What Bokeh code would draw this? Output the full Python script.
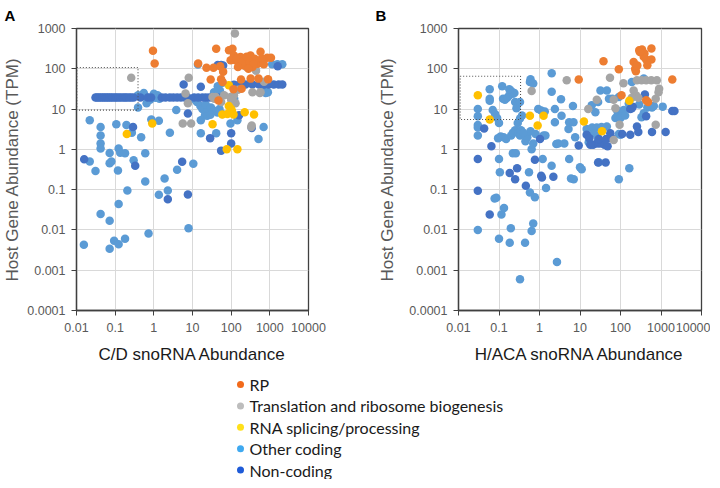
from bokeh.plotting import figure
from bokeh.layouts import column, row
from bokeh.models import (Range1d, FixedTicker, CustomJSTickFormatter, ColumnDataSource)
from bokeh.core.properties import value
from bokeh.embed import file_html
from bokeh.resources import INLINE

# ---------------- data ----------------
XTICKS = [0.01, 0.1, 1, 10, 100, 1000, 10000]
XLABELS = ["0.01", "0.1", "1", "10", "100", "1000", "10000"]
YTICKS = [0.0001, 0.001, 0.01, 0.1, 1, 10, 100, 1000]
YLABELS = ["0.0001", "0.001", "0.01", "0.1", "1", "10", "100", "1000"]

CATEGORIES = ["RP", "Translation and ribosome biogenesis", "RNA splicing/processing",
              "Other coding", "Non-coding"]
COLORS = ["#ED7D31", "#A5A5A5", "#FFC000", "#5B9BD5", "#4472C4"]
LEGEND_COLORS = ["#F26A1B", "#BDBDBD", "#FFE01A", "#3FA9F0", "#1E5BD8"]

# Panel A: C/D snoRNA abundance vs host gene abundance (TPM)
A_RP = [(0.95, 280), (1.05, 135), (14, 135), (23, 106), (35, 106), (52, 115), (41, 316), (88, 290),
        (108, 316), (118, 215), (131, 162), (174, 196), (234, 162), (316, 215), (405, 178), (490, 133),
        (575, 263), (855, 188), (1070, 188), (158, 138), (262, 138), (97, 162), (214, 120), (355, 110),
        (140, 180), (200, 150), (300, 150), (250, 200), (380, 130), (150, 110), (280, 100), (620, 180),
        (700, 130), (29.5, 54), (55, 55), (60, 47), (62, 85), (47, 16.3), (115, 31), (180, 54), (320, 57),
        (510, 57), (900, 55), (186, 32)]
A_TRANS = [(125, 750), (0.26, 60), (7.6, 14), (6.6, 24.5), (8.0, 60), (5.6, 4.4), (9.2, 4.4), (33, 20),
           (40, 20), (66, 22), (97, 20), (118, 22), (100, 17), (55, 15), (37, 18), (355, 26), (575, 26),
           (330, 3.6), (340, 3.9), (550, 25), (150, 30), (250, 110), (440, 90), (710, 48), (130, 14)]
A_RNA = [(0.2, 2.4), (0.91, 4.4), (59, 7.3), (93, 8.3), (115, 7.3), (224, 8.3), (390, 7.3), (87, 12),
         (33, 4.2), (77, 1.0), (145, 1.0), (100, 10), (87, 39), (80, 7.5), (105, 9)]
A_OTHER = [(0.0155, 0.0043), (0.022, 0.5), (0.022, 5.3), (0.031, 0.29), (0.042, 3.6), (0.042, 2.2),
           (0.042, 1.4), (0.042, 1.05), (0.042, 0.025), (0.072, 0.81), (0.072, 0.45), (0.08, 0.5),
           (0.072, 0.017), (0.072, 0.0034), (0.094, 0.0054), (0.107, 4.2), (0.118, 0.3), (0.123, 1.05),
           (0.135, 0.82), (0.18, 0.8), (0.123, 0.044), (0.123, 0.0044), (0.18, 0.006), (0.207, 0.095),
           (0.196, 4.0), (0.27, 2.6), (0.3, 0.54), (0.47, 2.0), (0.6, 0.8), (0.6, 0.16), (0.73, 0.0082),
           (0.86, 5.5), (1.35, 5.1), (1.35, 0.075), (1.9, 0.19), (2.3, 0.095), (2.6, 2.6), (4.0, 0.31),
           (7.9, 0.011), (10.5, 0.44), (3.8, 9.5), (0.39, 10.9), (16.4, 5.3), (16.4, 2.5), (21, 9.5),
           (21, 7.0), (41, 2.5), (96, 4.4), (145, 5.3), (510, 1.8), (690, 3.6), (780, 25), (13.8, 128),
           (1150, 130), (1570, 130), (2100, 130), (890, 26), (0.39, 22), (0.55, 25), (0.6, 21),
           (0.65, 14), (1.0, 24), (1.1, 19), (1.25, 22), (1.4, 18), (0.8, 17), (10.5, 18), (13, 15),
           (16, 12), (18, 10), (25, 10), (22, 13), (30, 11), (36, 9.1), (44, 8.2), (59, 7.5), (24, 6.8),
           (29, 7.2), (50, 10), (60, 45), (45, 37), (120, 18), (36, 26), (51, 29), (700, 29), (850, 26)]
A_NON = [(0.0158, 0.57), (0.29, 3.6), (0.33, 0.39), (2.3, 0.058), (5.4, 0.49), (7.6, 0.076), (7.6, 7.8),
         (5.9, 41), (16.4, 36), (28.6, 1.9), (55, 0.93), (100, 1.4), (100, 2.5), (160, 7.0), (340, 3.4),
         (45, 125), (55, 125), (62, 120), (1600, 115),
         (0.031, 19.5), (0.034, 19.5), (0.038, 19.5), (0.042, 19.5), (0.047, 19.5), (0.052, 19.5),
         (0.058, 19.5), (0.064, 19.5), (0.071, 19.5), (0.079, 19.5), (0.088, 19.5), (0.1, 19.5),
         (0.11, 19.5), (0.125, 19.5), (0.14, 19.5), (0.16, 19.5), (0.18, 19.5), (0.2, 19.5),
         (0.23, 19.5), (0.26, 19.5), (0.3, 19.5), (0.45, 19.5), (0.7, 19.5), (0.85, 19.5),
         (1.6, 19.5), (2.0, 19.5), (2.6, 19.5), (3.2, 19.5), (4.0, 19.5), (5.0, 19.5), (6.3, 19.5),
         (7.5, 19.5), (11, 19.5), (14, 19.5), (18, 19.5), (22, 19.5), (27, 19.5), (33, 19.5),
         (40, 19.5), (45, 19.5),
         (118, 40), (158, 40), (235, 41), (355, 41), (525, 41), (710, 41), (940, 41), (1260, 41),
         (1690, 41), (2100, 41)]

# Panel B: H/ACA snoRNA abundance vs host gene abundance (TPM)
B_RP = [(9.3, 54), (38, 153), (91, 97), (106, 22), (430, 16.5), (480, 15), (290, 290), (340, 300),
        (390, 240), (430, 170), (580, 318), (580, 170), (211, 148), (230, 100), (240, 87), (460, 122),
        (1900, 54), (375, 200), (300, 260), (260, 120)]
B_TRANS = [(4.7, 52), (55, 60), (118, 44), (255, 52), (330, 52), (430, 52), (575, 52), (790, 52),
           (900, 32), (870, 26), (740, 18), (211, 29), (240, 22), (190, 19), (275, 19), (68, 17),
           (26, 17), (16, 10), (75, 10.5), (95, 4.1), (740, 4.1), (68, 1.7), (0.64, 28)]
B_RNA = [(0.03, 22), (0.059, 5.5), (0.58, 6.8), (0.9, 3.9), (1.26, 6.8), (12.5, 4.9), (35, 2.8),
         (165, 16)]
B_OTHER = [(0.03, 0.01), (0.115, 0.024), (0.133, 0.035), (0.1, 0.006), (0.196, 0.011), (0.184, 0.0048),
           (0.44, 0.0048), (0.64, 0.0094), (0.7, 0.0145), (2.7, 0.0016), (0.33, 0.0006), (0.078, 0.06),
           (0.086, 0.063), (0.03, 10), (0.03, 6.6), (0.03, 4.0), (0.03, 3.5), (0.03, 2.2), (0.059, 31),
           (0.059, 18), (0.059, 16), (0.07, 9.5), (0.08, 7.5), (0.09, 6), (0.1, 4.5), (0.1, 0.58),
           (0.105, 0.27), (0.12, 37), (0.126, 18), (0.14, 17), (0.16, 19), (0.18, 22), (0.2, 28),
           (0.22, 24), (0.24, 25), (0.18, 31), (0.25, 15), (0.27, 10.5), (0.095, 1.9), (0.11, 2.1),
           (0.13, 2.0), (0.15, 1.8), (0.2, 2.2), (0.22, 2.6), (0.25, 3.0), (0.3, 2.5), (0.33, 2.2),
           (0.35, 3.0), (0.29, 4.5), (0.33, 5.8), (0.22, 0.8), (0.26, 0.8), (0.55, 0.27), (0.58, 0.085),
           (0.77, 0.065), (0.6, 55), (0.58, 47), (0.7, 43), (0.37, 6.9), (0.33, 15), (0.93, 10),
           (1.1, 9.2), (1.35, 8.7), (1.26, 2.2), (1.4, 2.2), (0.64, 1.0), (1.2, 0.58), (1.45, 0.11),
           (1.99, 0.39), (2.0, 78), (2.0, 27), (2.6, 1.35), (4.1, 1.4), (2.9, 1.4), (2.4, 4.7),
           (3.4, 17.5), (2.4, 10), (3.5, 6.8), (5.2, 3.2), (5.4, 4.7), (6.9, 4.7), (6.7, 12), (7.6, 2.0),
           (5.4, 0.58), (6, 0.19), (7, 0.18), (10, 0.36), (11, 0.32), (14.6, 3.2), (16.4, 1.5),
           (19.5, 12.5), (24, 8.3), (28, 15), (32, 29), (46, 29), (28, 1.8), (29, 0.48), (46, 3.7),
           (20, 3.5), (26, 3.5), (34, 3.6), (22, 2.5), (27, 2.1), (52, 18), (63, 18), (91, 20),
           (82, 9.3), (91, 6.9), (85, 7), (110, 8), (120, 9.5), (75, 6), (100, 6), (91, 2.4),
           (100, 2.3), (91, 0.18), (130, 6.9), (160, 13.7), (165, 0.34), (190, 47), (290, 13),
           (460, 11), (330, 6.3), (375, 7.9), (375, 57), (600, 11), (1100, 11.5), (665, 12),
           (0.45, 1.6), (0.5, 2.0), (0.6, 2.8), (0.7, 1.4), (0.8, 2.4), (0.4, 2.6)]
B_NON = [(0.03, 0.094), (0.059, 0.024), (0.03, 0.58), (0.043, 3.3), (0.065, 1.2), (0.184, 0.26),
         (0.25, 0.18), (0.28, 0.34), (0.46, 0.125), (1.03, 1.8), (0.77, 0.55), (1.1, 0.22), (1.15, 0.2),
         (2.2, 0.21), (9.3, 1.25), (14.6, 2.3), (21, 1.3), (26, 1.4), (31, 1.4), (40, 1.3), (48, 1.2),
         (29, 1.8), (44, 1.8), (17, 1.9), (18, 1.3), (28, 0.47), (43, 0.47), (56, 2.5), (60, 1.9),
         (110, 2.4), (174, 2.3), (174, 10), (200, 11.5), (190, 10.5), (255, 3.7), (275, 2.7), (400, 23),
         (430, 6.6), (600, 2.7), (1300, 2.7), (1900, 8.9), (2150, 8.9)]

# dotted highlight boxes (data coordinates: x_min, x_max, y_min, y_max)
A_BOX = (0.0102, 0.39, 9.4, 108)
B_BOX = (0.011, 0.34, 5.5, 65)

FONT = "Liberation Sans"
AX_COLOR = "#404040"


def tick_formatter(ticks, labels):
    return CustomJSTickFormatter(args=dict(tvals=ticks, tlabels=labels), code="""
        let best = 0, bd = Infinity;
        for (let i = 0; i < tvals.length; i++) {
            const d = Math.abs(Math.log10(tick) - Math.log10(tvals[i]));
            if (d < bd) { bd = d; best = i; }
        }
        return tlabels[best];
    """)


def make_panel(letter, xlabel, series, box, frame_w, border_left, border_right, label_standoff,
               title_offset):
    p = figure(x_axis_type="log", y_axis_type="log",
               x_range=Range1d(XTICKS[0], XTICKS[-1]), y_range=Range1d(YTICKS[0], YTICKS[-1]),
               frame_width=frame_w, frame_height=282,
               min_border_left=border_left, min_border_right=border_right,
               min_border_top=0, min_border_bottom=0,
               output_backend="svg", toolbar_location=None, background_fill_color="white",
               border_fill_color="white", outline_line_color=AX_COLOR, outline_line_width=1.3)
    p.title.text = letter
    p.title.align = "left"
    p.title.offset = title_offset
    p.title.standoff = 9
    p.title.text_font = FONT
    p.title.text_font_size = "15px"
    p.title.text_font_style = "bold"
    p.title.text_color = "#000000"

    xt = FixedTicker(ticks=XTICKS, minor_ticks=[])
    yt = FixedTicker(ticks=YTICKS, minor_ticks=[])
    p.xaxis.ticker = xt
    p.yaxis.ticker = yt
    p.xgrid.ticker = xt
    p.ygrid.ticker = yt
    p.xaxis.formatter = tick_formatter(XTICKS, XLABELS)
    p.yaxis.formatter = tick_formatter(YTICKS, YLABELS)
    for g in (p.xgrid, p.ygrid):
        g.grid_line_color = "#D9D9D9"
        g.grid_line_width = 1
    for ax in (p.xaxis, p.yaxis):
        ax.axis_line_color = AX_COLOR
        ax.axis_line_width = 1.3
        ax.major_tick_line_color = AX_COLOR
        ax.major_tick_out = 5
        ax.major_tick_in = 0
        ax.minor_tick_out = 0
        ax.minor_tick_in = 0
        ax.major_label_text_font = FONT
        ax.major_label_text_font_size = "12.5px"
        ax.major_label_text_color = "#595959"
        ax.axis_label_text_font = FONT
        ax.axis_label_text_font_size = "17px"
        ax.axis_label_text_font_style = "normal"
    p.xaxis.major_label_standoff = 7
    p.yaxis.major_label_standoff = 6
    p.xaxis.axis_label = xlabel
    p.xaxis.axis_label_text_color = "#1A1A1A"
    p.xaxis.axis_label_standoff = 10
    p.yaxis.axis_label = "Host Gene Abundance (TPM)"
    p.yaxis.axis_label_text_color = "#595959"
    p.yaxis.axis_label_standoff = label_standoff

    # draw order: other coding, non-coding, translation, splicing, RP
    order = [3, 4, 1, 2, 0]
    for i in order:
        pts = series[i]
        src = ColumnDataSource(dict(x=[a for a, b in pts], y=[b for a, b in pts]))
        p.scatter("x", "y", source=src, size=8.5, fill_color=COLORS[i], line_color=None)

    # dotted highlight rectangle, drawn on top of the points
    x0, x1, y0, y1 = box
    p.line([x0, x1, x1, x0, x0], [y1, y1, y0, y0, y1], line_color="#505050", line_width=1.1,
           line_dash="1 2")
    return p


pA = make_panel("A", "C/D snoRNA Abundance", [A_RP, A_TRANS, A_RNA, A_OTHER, A_NON], A_BOX,
                frame_w=232, border_left=67, border_right=50, label_standoff=2, title_offset=-72)
pB = make_panel("B", "H/ACA snoRNA Abundance", [B_RP, B_TRANS, B_RNA, B_OTHER, B_NON], B_BOX,
                frame_w=243, border_left=100, border_right=9, label_standoff=9, title_offset=-83)

# legend as its own small figure
LEG_H = 113
pL = figure(x_range=Range1d(0, 712), y_range=Range1d(LEG_H, 0), frame_width=712, frame_height=LEG_H,
            min_border=0, output_backend="svg", toolbar_location=None, outline_line_color=None)
pL.axis.visible = False
pL.grid.visible = False
leg_y = [18 + 21.4 * i for i in range(len(CATEGORIES))]
leg_src = ColumnDataSource(dict(x=[240] * len(CATEGORIES), tx=[249] * len(CATEGORIES), y=leg_y,
                                label=CATEGORIES, color=LEGEND_COLORS))
pL.scatter("x", "y", source=leg_src, size=7, fill_color="color", line_color=None)
pL.text("tx", "y", text="label", source=leg_src, text_font=value("Lato"), text_font_size="16px",
        text_baseline="middle", text_align="left", text_color="#1A1A1A")

layout = column(row(pA, pB), pL)
open("out.html", "w").write(file_html(layout, INLINE))
